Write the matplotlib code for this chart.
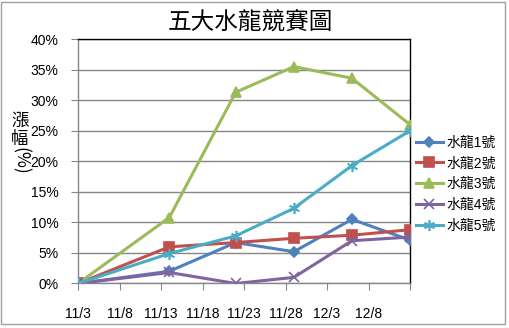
import numpy as np
import matplotlib.pyplot as plt
import matplotlib.transforms as mtransforms
from matplotlib.patches import Rectangle
import pandas as pd

plt.rcParams['font.family'] = ['Liberation Sans', 'Noto Sans CJK TC', 'DejaVu Sans']

# dates of the readings (year assumed)
dates = pd.to_datetime(['2010-11-03', '2010-11-14', '2010-11-22',
                        '2010-11-29', '2010-12-06', '2010-12-13'])

# percentage change per fund
dragon1 = [0.0, 2.0, 6.7, 5.2, 10.5, 7.1]
dragon2 = [0.0, 6.0, 6.7, 7.4, 7.9, 8.8]
dragon3 = [0.0, 10.8, 31.3, 35.5, 33.6, 26.0]
dragon4 = [0.0, 1.8, 0.0, 1.0, 7.0, 7.6]
dragon5 = [0.0, 4.9, 7.8, 12.3, 19.3, 25.0]

series_names = ['水龍1號', '水龍2號', '水龍3號', '水龍4號', '水龍5號']
colors = ['#4F81BD', '#C0504D', '#9BBB59', '#8064A2', '#4BACC6']
markers = ['D', 's', '^', 'x', (6, 2, 0)]
msizes = [5, 7, 7, 7, 8]

tick_dates = pd.date_range('2010-11-03', '2010-12-13', freq='5D')
tick_labels = ['11/3', '11/8', '11/13', '11/18', '11/23', '11/28', '12/3', '12/8', '']

W, H = 510, 328
fig = plt.figure(figsize=(W / 100, H / 100), dpi=100)
ax = fig.add_axes([0.153, 0.1357, 0.651, 0.745])

grid_c = '#868686'
for vals, name, c, m, ms in zip([dragon1, dragon2, dragon3, dragon4, dragon5],
                                series_names, colors, markers, msizes):
    ax.plot(dates, vals, color=c, lw=2.2, marker=m, ms=ms, mew=1.2,
            label=name, zorder=3)

ax.set_ylim(0, 40)
ax.set_xlim(tick_dates[0], tick_dates[-1])
ax.set_yticks(np.arange(0, 41, 5))
ax.set_yticklabels([f'{v}%' for v in range(0, 41, 5)])
ax.set_xticks(tick_dates)
ax.set_xticklabels(tick_labels)
for lbl in ax.get_xticklabels():
    lbl.set_transform(lbl.get_transform() +
                      mtransforms.ScaledTranslation(4 / 100, 0, fig.dpi_scale_trans))

ax.grid(axis='y', color=grid_c, lw=1)
ax.set_axisbelow(True)
ax.tick_params(axis='both', direction='out', length=5, color=grid_c,
               labelsize=10, labelcolor='black')
ax.tick_params(axis='y', pad=9)
ax.tick_params(axis='x', pad=12)
ax.spines['left'].set_color(grid_c)
ax.spines['bottom'].set_color(grid_c)
ax.spines['top'].set_color('black')
ax.spines['right'].set_color('black')
for s in ax.spines.values():
    s.set_linewidth(1)

# y label, stacked like Excel's vertical text: CJK upright, "(%)" turned
cjk = ['Noto Sans CJK TC', 'DejaVu Sans']
fig.text(20 / W, 1 - 121 / H, '漲', fontsize=12.5, family=cjk, ha='center', va='center')
fig.text(20 / W, 1 - 139 / H, '幅', fontsize=12.5, family=cjk, ha='center', va='center')
fig.text(20 / W, 1 - 161 / H, '(%)', fontsize=12.5, family=cjk, ha='center', va='center',
         rotation=-90)

fig.suptitle('五大水龍競賽圖', x=0.49, y=1 - 22 / H, va='center', fontsize=17,
             family=cjk, fontweight='light')

leg = ax.legend(loc='center left', bbox_to_anchor=(1.0, 0.406), frameon=False,
                fontsize=10, handlelength=2.0, labelspacing=0.5,
                handletextpad=0.2, borderaxespad=0.4, borderpad=0)

fig.patches.append(Rectangle((0.002, 0.012), 0.988, 0.982, transform=fig.transFigure,
                             fill=False, edgecolor='#A0A0A0', lw=1))

fig.savefig('out.png', dpi=100)
